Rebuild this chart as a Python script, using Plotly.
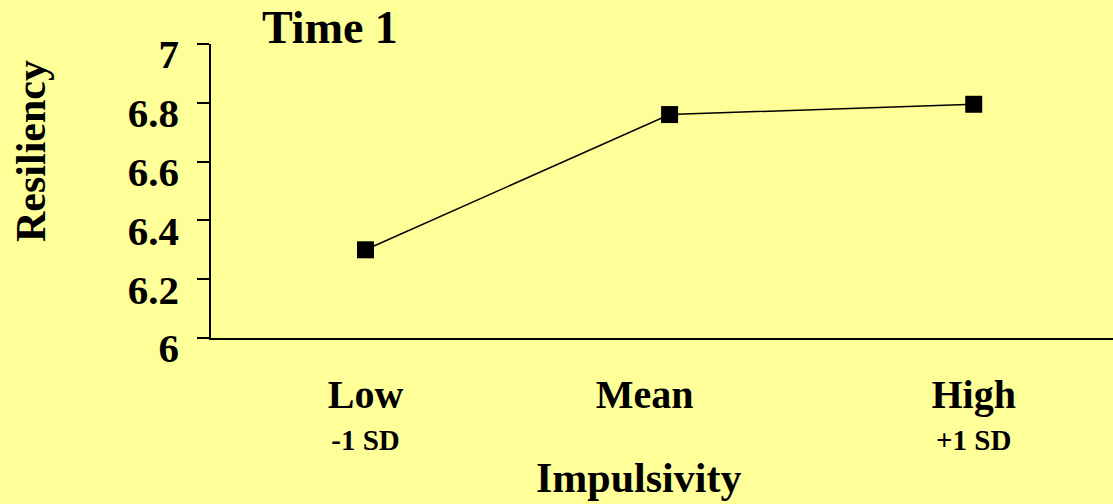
import plotly.graph_objects as go

categories = ["Low", "Mean", "High"]
sub_labels = ["-1 SD", "", "+1 SD"]
resiliency = [6.30, 6.76, 6.795]
y_ticks = [6, 6.2, 6.4, 6.6, 6.8, 7]
y_tick_labels = ["6", "6.2", "6.4", "6.6", "6.8", "7"]

FONT = "Liberation Serif, Times New Roman, serif"
BG = "#FFFF99"

tick_text = []
for c, s in zip(categories, sub_labels):
    label = c if s else c + "&nbsp;" * 5
    t = f"<span style='font-size:40px'><b>{label}</b></span>"
    if s:
        t += f"<br><span style='font-size:29px'><b>{s}</b></span>"
    else:
        t += "<br> "
    tick_text.append(t)

fig = go.Figure()
fig.add_trace(go.Scatter(
    x=categories, y=resiliency, mode="lines+markers",
    line=dict(color="black", width=1.5),
    marker=dict(symbol="square", size=17, color="black"),
    showlegend=False, hoverinfo="skip",
))

fig.update_layout(
    width=1113, height=504,
    paper_bgcolor=BG, plot_bgcolor=BG,
    margin=dict(l=211, r=0, t=44, b=166),
    font=dict(family=FONT, color="black", size=40),
    xaxis=dict(
        type="category", range=[-0.508, 2.458],
        tickvals=categories, ticktext=tick_text,
        showgrid=False, zeroline=False,
        showline=True, linecolor="black", linewidth=1.5,
        ticks="", ticklabelstandoff=30,
        tickfont=dict(family=FONT, size=32, color="black"),
    ),
    yaxis=dict(
        range=[6, 7], tickvals=y_ticks, ticktext=[f"<b>{t}</b>" for t in y_tick_labels],
        showgrid=False, zeroline=False,
        showline=True, linecolor="black", linewidth=1.5,
        ticks="outside", ticklen=12, tickwidth=1.5, tickcolor="black",
        ticklabelstandoff=10, ticklabelshift=10,
        tickfont=dict(family=FONT, size=41, color="black"),
    ),
    annotations=[
        dict(text="<b>Time 1</b>", xref="paper", yref="paper",
             x=(330 - 211) / 902, y=(338 - 27) / 294, xanchor="center", yanchor="middle",
             showarrow=False, font=dict(family=FONT, size=46, color="black")),
        dict(text="<b>Resiliency</b>", xref="paper", yref="paper",
             x=(31 - 211) / 902, y=(338 - 151) / 294, xanchor="center", yanchor="middle",
             textangle=-90, showarrow=False, font=dict(family=FONT, size=42, color="black")),
        dict(text="<b>Impulsivity</b>", xref="paper", yref="paper",
             x=(638 - 211) / 902, y=(338 - 478) / 294, xanchor="center", yanchor="middle",
             showarrow=False, font=dict(family=FONT, size=42, color="black")),
    ],
)

fig.write_html("out.html", config={"displayModeBar": False},
               post_script="document.body.style.margin='0';")
